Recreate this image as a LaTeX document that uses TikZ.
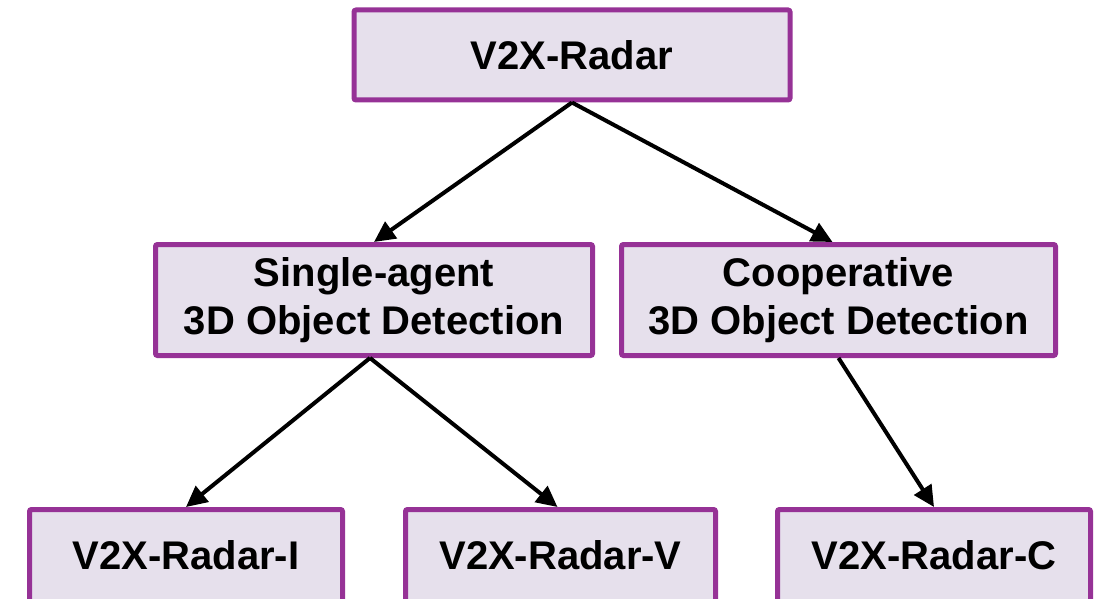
\documentclass[tikz,border=0pt]{standalone}
\usepackage{fontspec}
\setmainfont{Liberation Sans}
\usetikzlibrary{arrows.meta}
\definecolor{boxfill}{RGB}{230,224,236}
\definecolor{boxline}{RGB}{150,50,150}

\begin{document}
\begin{tikzpicture}[x=1pt, y=-1pt, main/.style = {draw=boxline, fill=boxfill,
                        line width=5pt, rounded corners=2pt, inner sep=0pt, align=center,
                        font=\fontsize{40}{48}\selectfont\bfseries},
                    leaf/.style = {main, minimum height=120pt, text depth=29pt},
                    link/.style = {line width=4pt, -{Triangle[length=21pt, width=20pt]}}]
        \useasboundingbox (0,0) rectangle (1097,599);
        \clip (0,0) rectangle (1097,599);

        \node[main, minimum width=436pt, minimum height=90pt] (root) at (572,55) {V2X-Radar};
        \node[main, minimum width=437pt, minimum height=111pt] (single) at (374,300) {Single-agent\\3D Object Detection};
        \node[main, minimum width=434pt, minimum height=111pt] (coop) at (838.5,300) {Cooperative\\3D Object Detection};
        \node[leaf, minimum width=313pt] (radI) at (186,569.5) {V2X-Radar-I};
        \node[leaf, minimum width=310pt] (radV) at (560.5,569.5) {V2X-Radar-V};
        \node[leaf, minimum width=313pt] (radC) at (934,569.5) {V2X-Radar-C};

        \draw[link] (root.south) -- (single.north);
        \draw[link] (root.south) -- ([xshift=-6pt]coop.north);
        \draw[link] ([xshift=-4pt]single.south) -- (radI.north);
        \draw[link] ([xshift=-4pt]single.south) -- ([xshift=-3pt]radV.north);
        \draw[link] (coop.south) -- (radC.north);
    \end{tikzpicture}
\end{document}
